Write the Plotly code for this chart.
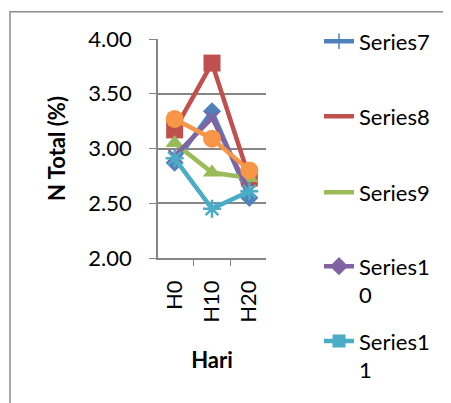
import plotly.graph_objects as go

categories = ["H0", "H10", "H20"]
series_names = ["Series7", "Series8", "Series9", "Series10", "Series11", "Series12"]
s7 = [2.87, 3.34, 2.55]
s8 = [3.17, 3.78, 2.73]
s9 = [3.05, 2.78, 2.73]
s10 = [2.93, 3.28, 2.61]
s11 = [2.91, 2.45, 2.61]
s12 = [3.27, 3.09, 2.80]
y_ticks = [2.0, 2.5, 3.0, 3.5, 4.0]

values = [s7, s8, s9, s10, s11, s12]
colors = ["#4F81BD", "#C0504D", "#9BBB59", "#8064A2", "#4BACC6", "#F79646"]
symbols = ["diamond", "square", "triangle-up", "x-thin-open", "asterisk-open", "circle"]
sizes = [14, 17, 16, 12, 15, 18]

FONT = "Lato"
FS = 22
fig = go.Figure()
for name, vals, c, sym, sz in zip(series_names, values, colors, symbols, sizes):
    mk = dict(symbol=sym, size=sz, color=c)
    if sym.endswith("open"):
        mk["line"] = dict(color=c, width=2.5)
    fig.add_trace(go.Scatter(x=categories, y=vals, mode="lines+markers", name=name,
                             line=dict(color=c, width=4.5), marker=mk, showlegend=False))

# page body has an 8px margin; the figure is laid out in its own coordinates
OFF = 8
W, H = 451 - OFF, 403 - OFF
L, R, T, B = 158 - OFF, 266 - OFF, 39 - OFF, 264 - OFF

def px_x(p):
    return (p - OFF - L) / (R - L)

def px_y(p):
    return (B - (p - OFF)) / (B - T)

# legend entries as shown in the reference
leg_names = ["Series7", "Series8", "Series9", "Series1<br>0", "Series1<br>1"]
leg_markers = [dict(symbol="line-ns-open", size=11, color=colors[0], line=dict(color=colors[0], width=1.5)),
               dict(size=0.1, color=colors[1], opacity=0),
               dict(size=0.1, color=colors[2], opacity=0),
               dict(symbol="diamond", size=14, color=colors[3]),
               dict(symbol="square", size=13, color=colors[4])]
leg_centers = [41, 118, 196, 272, 349]
legend_layouts = {}
for i, (nm, mk, cy) in enumerate(zip(leg_names, leg_markers, leg_centers)):
    key = "legend" if i == 0 else "legend%d" % (i + 1)
    fig.add_trace(go.Scatter(x=[None], y=[None], mode="lines+markers", name=nm,
                             line=dict(color=colors[i], width=4.5), marker=mk,
                             legend=key, showlegend=True))
    legend_layouts[key] = dict(x=px_x(311 + OFF), xanchor="left", y=px_y(cy - 21), yanchor="top",
                               font=dict(family=FONT, size=FS, color="black"),
                               valign="top", bgcolor="rgba(0,0,0,0)", maxheight=400)

fig.update_layout(
    width=W, height=H,
    margin=dict(l=L, r=W - R, t=T, b=H - B, pad=0),
    paper_bgcolor="white", plot_bgcolor="white",
    font=dict(family=FONT, size=FS, color="black"),
    showlegend=True,
    xaxis=dict(type="category", tickangle=-90, ticks="outside", tickson="boundaries",
               ticklen=6, tickcolor="#868686", showline=True, linecolor="#868686", linewidth=1.5,
               showgrid=False, tickfont=dict(family=FONT, size=FS), ticklabelstandoff=12,
               title=dict(text="<b>Hari</b>", font=dict(family=FONT, size=FS), standoff=31)),
    yaxis=dict(range=[2.0, 4.0], tickvals=y_ticks, tickformat=".2f", ticks="outside",
               ticklen=7, tickcolor="#868686", showline=True, linecolor="#868686", linewidth=1.5,
               showgrid=True, gridcolor="#868686", gridwidth=1.5, zeroline=False,
               tickfont=dict(family=FONT, size=FS), ticklabelstandoff=13,
               title=dict(text="<b>N Total (%)</b>", font=dict(family=FONT, size=FS), standoff=17)),
    shapes=[dict(type="rect", xref="paper", yref="paper",
                 x0=px_x(10), x1=px_x(480), y0=px_y(440), y1=px_y(11),
                 line=dict(color="#8c8c8c", width=1.5), fillcolor="rgba(0,0,0,0)", layer="below")],
)
fig.update_layout(**legend_layouts)
fig.write_html("out.html")
